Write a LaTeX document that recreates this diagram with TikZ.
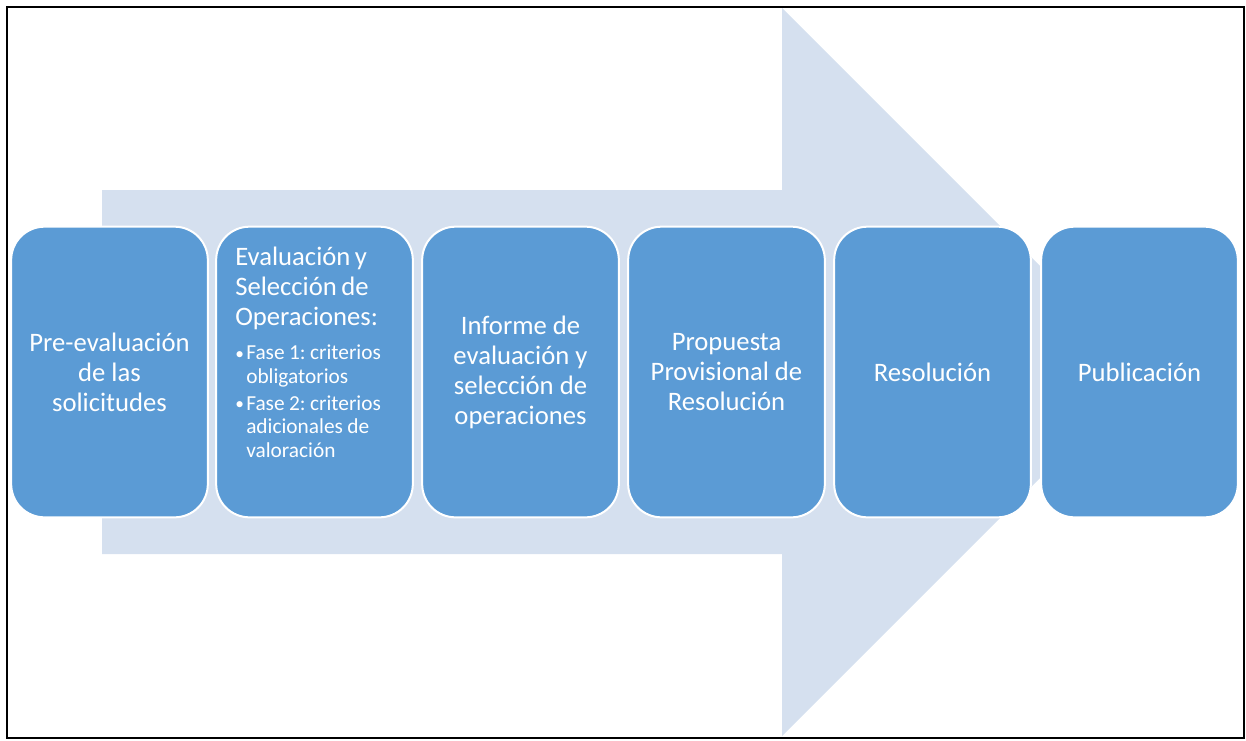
\documentclass[tikz,border=0pt]{standalone}
\usepackage{fontspec}
\setmainfont{Carlito}
\usepackage{xcolor}
\definecolor{boxblue}{HTML}{5B9BD5}
\definecolor{arrowblue}{HTML}{D5E0EF}
\frenchspacing
\newcommand{\fasebullet}{\makebox[8.25pt][l]{\raisebox{0.6pt}{\fontsize{13}{13}\selectfont•}}}
\newcommand{\faseindent}{\hspace*{8.25pt}}
\tikzset{
  stagebox/.style={draw=white, line width=1.5pt, fill=boxblue, rounded corners=25pt,
    minimum width=147.5pt, minimum height=218pt, inner sep=0pt,
    text=white, align=center, font=\fontsize{20}{22.5}\selectfont},
}

\begin{document}
\begin{tikzpicture}[x=0.75pt,y=0.75pt,yscale=-1,xscale=1]
\useasboundingbox (0,0) rectangle (1246,740);

%Shape: Frame
\draw [line width=1.5pt] (7,7) rectangle (1244,738) ;
%Shape: Right Arrow
\fill [arrowblue] (102,190) -- (782,190) -- (782,8) -- (1146,372) -- (782,736) -- (782,554) -- (102,554) -- cycle ;

% Text Node
\draw (109.5,372) node [stagebox] (pre) {Pre-evaluación\\de las\\solicitudes};
% Text Node
\draw (314.5,372) node [stagebox] (eval) {};
% Text Node
\draw (235,265) node [anchor=base west][inner sep=0pt][text width=125pt, align=left, text=white] (evaltxt) {\parskip=0pt\parindent=0pt
{\fontsize{20}{22.5}\selectfont Evaluación y\\Selección de\\Operaciones:\par}
\vspace{8.6pt}
{\fontsize{16}{17.6}\selectfont \fasebullet Fase 1: criterios\\\faseindent obligatorios\par}
\vspace{2.4pt}
{\fontsize{16}{17.6}\selectfont \fasebullet Fase 2: criterios\\\faseindent adicionales de\\\faseindent valoración\par}};
% Text Node
\draw (520.5,372) node [stagebox] (informe) {Informe de\\evaluación y\\selección de\\operaciones};
% Text Node
\draw (726.5,372) node [stagebox] (propuesta) {Propuesta\\Provisional de\\Resolución};
% Text Node
\draw (932.5,372) node [stagebox] (resolucion) {Resolución};
% Text Node
\draw (1139.5,372) node [stagebox] (publicacion) {Publicación};

\end{tikzpicture}
\end{document}
